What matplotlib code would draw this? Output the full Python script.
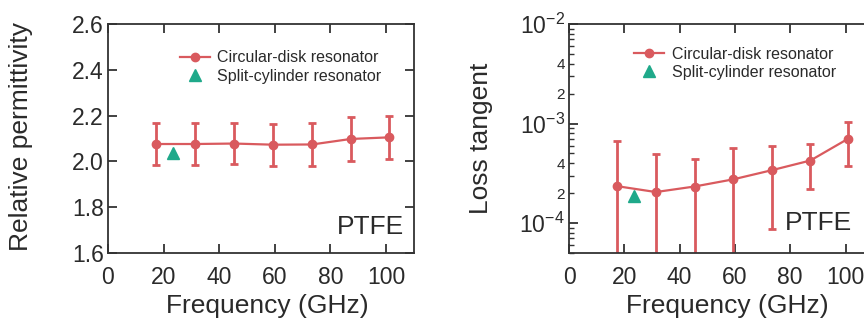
import matplotlib
matplotlib.use("Agg")
import matplotlib.pyplot as plt
import matplotlib.ticker as mticker
import numpy as np

plt.rcParams['font.family'] = ['Liberation Sans', 'DejaVu Sans']
plt.rcParams['mathtext.fontset'] = 'custom'
plt.rcParams['mathtext.rm'] = 'Liberation Sans'
plt.rcParams['mathtext.it'] = 'Liberation Sans:italic'
plt.rcParams['axes.unicode_minus'] = True

# data
freq = [17.3, 31.4, 45.4, 59.4, 73.4, 87.3, 101.0]
permittivity = [2.076, 2.076, 2.078, 2.073, 2.074, 2.098, 2.105]
permittivity_err = [0.09, 0.09, 0.09, 0.092, 0.092, 0.094, 0.095]
loss = [2.35e-4, 2.05e-4, 2.33e-4, 2.75e-4, 3.4e-4, 4.25e-4, 7.05e-4]
loss_err = [4.3e-4, 2.85e-4, 2.1e-4, 2.95e-4, 2.52e-4, 2.05e-4, 3.3e-4]
split_freq = [23.5]
split_perm = [2.038]
split_loss = [1.85e-4]
labels = ['Circular-disk resonator', 'Split-cylinder resonator']

red = '#d95a5e'
green = '#1fa98a'
ink = '#2a2a2a'

fig = plt.figure(figsize=(8.64, 3.24), dpi=100)
ax1 = fig.add_axes([0.125, 0.219, 0.354, 0.707])
ax2 = fig.add_axes([0.6586, 0.219, 0.352, 0.707])


def style_axis(ax):
    for s in ax.spines.values():
        s.set_color('#333333')
        s.set_linewidth(1.3)
    ax.tick_params(which='major', direction='in', length=6.5, width=1.3,
                   top=True, right=True, labelsize=16.5, colors='#333333',
                   labelcolor=ink)
    ax.tick_params(axis='x', which='major', pad=9)
    ax.tick_params(axis='y', which='major', pad=3)
    ax.set_xlim(0, 110)
    ax.xaxis.set_major_locator(mticker.MultipleLocator(20))
    ax.set_xlabel('Frequency (GHz)', fontsize=19, color=ink)
    ax.xaxis.set_label_coords(0.52, -0.18)


def add_legend(ax, handles, anchor):
    ax.legend(handles, labels, loc='upper left', bbox_to_anchor=anchor,
              frameon=False, fontsize=11.5, borderpad=0, borderaxespad=0,
              handlelength=1.9, handletextpad=0.45, labelspacing=0.2,
              labelcolor=ink)


# left panel: relative permittivity
eb1 = ax1.errorbar(freq, permittivity, yerr=permittivity_err, color=red,
                   lw=1.6, elinewidth=2.0, capsize=3.2, capthick=2.0,
                   marker='o', ms=6)
tri1, = ax1.plot(split_freq, split_perm, ls='none', marker='^', ms=9,
                 color=green)
style_axis(ax1)
ax1.set_ylim(1.6, 2.6)
ax1.yaxis.set_major_locator(mticker.MultipleLocator(0.2))
ax1.yaxis.set_major_formatter(mticker.FormatStrFormatter('%.1f'))
ax1.set_ylabel('Relative permittivity', fontsize=19, color=ink)
ax1.yaxis.set_label_coords(-0.245, 0.507)
ax1.text(0.967, 0.115, 'PTFE', transform=ax1.transAxes, ha='right',
         va='center', fontsize=19, color=ink)
add_legend(ax1, [eb1[0], tri1], (0.235, 0.885))

# right panel: loss tangent
ax2.set_yscale('log', nonpositive='clip')
eb2 = ax2.errorbar(freq, loss, yerr=loss_err, color=red, lw=1.6,
                   elinewidth=2.0, capsize=3.2, capthick=2.0, marker='o',
                   ms=6)
tri2, = ax2.plot(split_freq, split_loss, ls='none', marker='^', ms=9,
                 color=green)
style_axis(ax2)
ax2.set_ylim(5e-5, 1e-2)
ax2.yaxis.set_major_locator(mticker.LogLocator(base=10, numticks=10))
ax2.yaxis.set_minor_locator(mticker.LogLocator(base=10, subs=np.arange(2, 10),
                                               numticks=20))


def minor_fmt(v, pos):
    m = v / 10 ** np.floor(np.log10(v) + 1e-9)
    m = int(round(m))
    return str(m) if m in (2, 4) else ''


ax2.yaxis.set_minor_formatter(mticker.FuncFormatter(minor_fmt))
ax2.tick_params(axis='y', which='minor', direction='in', length=3.5,
                width=1.0, right=True, labelsize=11, pad=3,
                colors='#333333', labelcolor=ink)
ax2.set_ylabel('Loss tangent', fontsize=19, color=ink)
ax2.yaxis.set_label_coords(-0.25, 0.5)
ax2.text(0.932, 0.13, 'PTFE', transform=ax2.transAxes, ha='right',
         va='center', fontsize=19, color=ink)
add_legend(ax2, [eb2[0], tri2], (0.214, 0.9))

fig.savefig('out.png', dpi=100)
